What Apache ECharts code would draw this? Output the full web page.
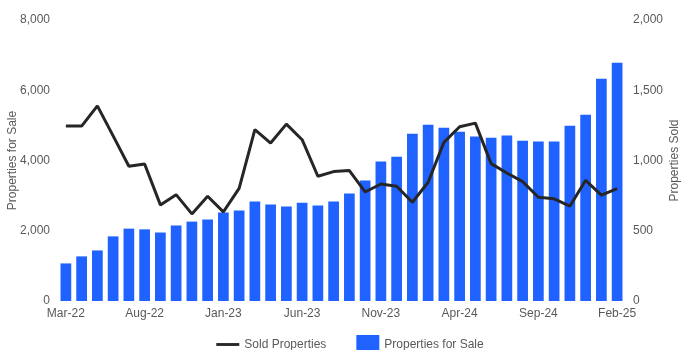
<!DOCTYPE html>
<html><head><meta charset="utf-8">
<script src="https://cdn.jsdelivr.net/npm/echarts@6/dist/echarts.min.js"></script>
<style>html,body{margin:0;padding:0;background:#fff}#c{width:700px;height:350px}</style>
</head><body><div id="c"></div>
<script>
const categories = ['Mar-22','Apr-22','May-22','Jun-22','Jul-22','Aug-22','Sep-22','Oct-22','Nov-22','Dec-22',
 'Jan-23','Feb-23','Mar-23','Apr-23','May-23','Jun-23','Jul-23','Aug-23','Sep-23','Oct-23',
 'Nov-23','Dec-23','Jan-24','Feb-24','Mar-24','Apr-24','May-24','Jun-24','Jul-24','Aug-24',
 'Sep-24','Oct-24','Nov-24','Dec-24','Jan-25','Feb-25'];
const propertiesForSale = [1070,1270,1440,1840,2060,2040,1950,2150,2260,2320,
 2520,2580,2830,2750,2690,2800,2720,2830,3060,3430,
 3970,4110,4760,5020,4930,4820,4680,4650,4710,4560,
 4540,4540,4990,5300,6330,6780];
const soldProperties = [1245,1245,1389,1175,959,975,684,757,620,746,
 634,802,1219,1124,1259,1148,888,921,928,776,
 833,817,703,845,1129,1240,1266,978,911,850,
 738,727,675,859,753,800];
const leftTicks = {min:0, max:8000, interval:2000};
const rightTicks = {min:0, max:2000, interval:500};

const fmt = v => v.toLocaleString('en-US');
const chart = echarts.init(document.getElementById('c'), null, {renderer:'canvas'});
const labelStyle = {color:'#595959', fontSize:12, fontFamily:'Liberation Sans, Arial, sans-serif'};
chart.setOption({
  animation:false,
  textStyle:{fontFamily:'Liberation Sans, Arial, sans-serif'},
  grid:{left:58, right:75, top:20, bottom:49, containLabel:false, outerBoundsMode:'none'},
  legend:{
    top:330, left:'center', itemGap:30, itemWidth:23, itemHeight:19,
    textStyle:{color:'#595959', fontSize:12, fontFamily:'Liberation Sans, Arial, sans-serif'},
    data:[{name:'Sold Properties', icon:'path://M0,0H24V3H0Z', itemStyle:{color:'#262626'}},
          {name:'Properties for Sale', icon:'rect'}]
  },
  xAxis:{
    type:'category', data:categories,
    axisLine:{show:false}, axisTick:{show:false},
    axisLabel:Object.assign({interval:4, margin:7}, labelStyle)
  },
  yAxis:[
    {type:'value', min:leftTicks.min, max:leftTicks.max, interval:leftTicks.interval,
     name:'Properties for Sale', nameLocation:'middle', nameGap:39, nameMoveOverlap:false,
     nameTextStyle:{color:'#595959', fontSize:12},
     splitLine:{show:false}, axisLine:{show:false}, axisTick:{show:false},
     axisLabel:Object.assign({formatter:fmt}, labelStyle)},
    {type:'value', min:rightTicks.min, max:rightTicks.max, interval:rightTicks.interval,
     name:'Properties Sold', nameLocation:'middle', nameGap:44, nameMoveOverlap:false,
     nameTextStyle:{color:'#595959', fontSize:12},
     splitLine:{show:false}, axisLine:{show:false}, axisTick:{show:false},
     axisLabel:Object.assign({formatter:fmt}, labelStyle)}
  ],
  series:[
    {name:'Properties for Sale', type:'bar', yAxisIndex:0, data:propertiesForSale,
     barCategoryGap:'32%', itemStyle:{color:'#1f62ff'}},
    {name:'Sold Properties', type:'line', yAxisIndex:1, data:soldProperties,
     symbol:'none', lineStyle:{color:'#262626', width:3}, itemStyle:{color:'#262626'}, z:5}
  ]
});
</script></body></html>
